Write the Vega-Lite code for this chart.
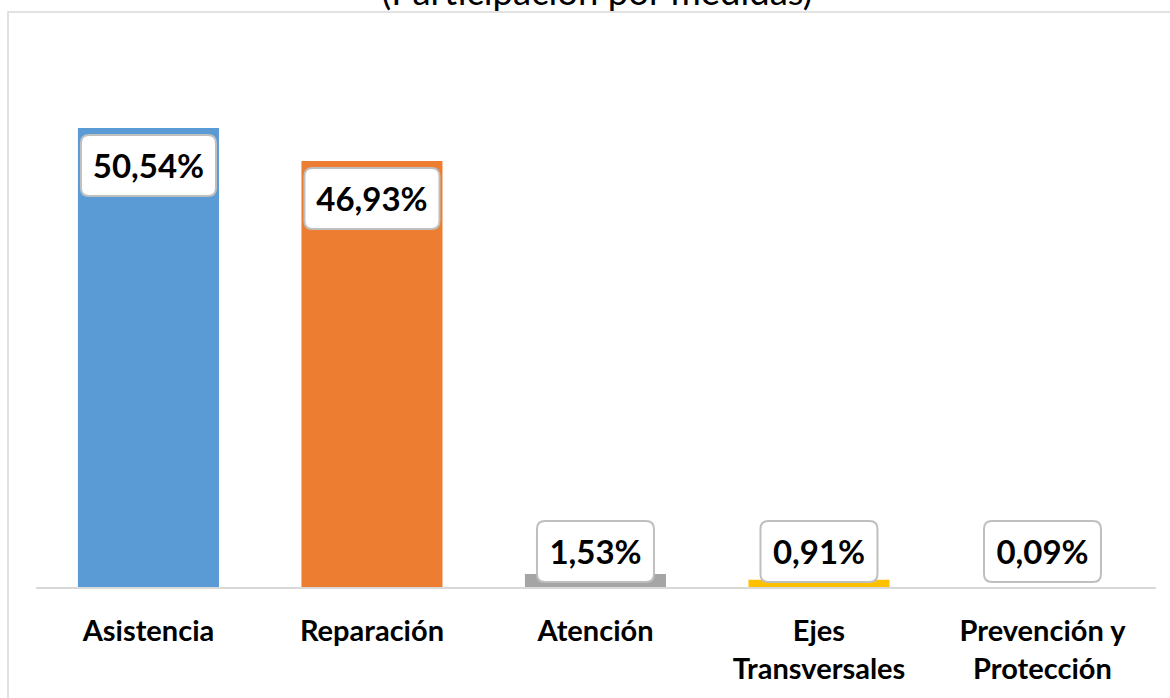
{
  "$schema": "https://vega.github.io/schema/vega-lite/v6.json",
  "width": 1162,
  "height": 686,
  "autosize": {"type": "none"},
  "padding": {"left": 8, "top": 12, "right": 0, "bottom": 0},
  "background": "white",
  "config": {
    "view": {"stroke": "#D9D9D9", "strokeWidth": 1.5, "strokeDash": [1162, 1848, 686, 10]},
    "locale": {"number": {"decimal": ",", "thousands": ".", "grouping": [3], "currency": ["", " €"]}}
  },
  "title": {
    "text": "(Participación por medidas)",
    "font": "Lato",
    "fontSize": 36.5,
    "fontWeight": "normal",
    "color": "#000000",
    "anchor": "middle",
    "offset": 0,
    "dx": 8
  },
  "data": {
    "values": [
      {"medida": "Asistencia", "valor": 0.5054},
      {"medida": "Reparación", "valor": 0.4693},
      {"medida": "Atención", "valor": 0.0153},
      {"medida": "Ejes Transversales", "valor": 0.0091},
      {"medida": "Prevención y Protección", "valor": 0.0009}
    ]
  },
  "encoding": {
    "x": {
      "field": "medida",
      "type": "nominal",
      "sort": null,
      "scale": {"type": "band", "paddingInner": 0.369, "paddingOuter": 0.284, "align": 0.551},
      "axis": {
        "title": null,
        "domain": false,
        "ticks": false,
        "grid": false,
        "offset": -110,
        "labelAngle": 0,
        "labelFont": "Lato",
        "labelFontSize": 29,
        "labelFontWeight": "bold",
        "labelColor": "#000000",
        "labelBaseline": "top",
        "labelPadding": 29,
        "labelLineHeight": 38,
        "labelLimit": 400,
        "labelExpr": "datum.value == 'Ejes Transversales' ? ['Ejes', 'Transversales'] : datum.value == 'Prevención y Protección' ? ['Prevención y', 'Protección'] : datum.label"
      }
    }
  },
  "layer": [
    {
      "mark": {"type": "bar"},
      "encoding": {
        "y": {
          "field": "valor",
          "type": "quantitative",
          "scale": {"domain": [-0.12088, 0.63297], "nice": false, "zero": false},
          "axis": null
        },
        "color": {
          "field": "medida",
          "type": "nominal",
          "sort": null,
          "scale": {
            "domain": ["Asistencia", "Reparación", "Atención", "Ejes Transversales", "Prevención y Protección"],
            "range": ["#5B9BD5", "#ED7D31", "#A5A5A5", "#FFC000", "#4472C4"]
          },
          "legend": null
        }
      }
    },
    {
      "mark": {"type": "rule", "color": "#D9D9D9", "strokeWidth": 1.5, "xOffset": -112.5, "x2Offset": 113.5},
      "encoding": {
        "x": {"datum": "Asistencia"},
        "x2": {"datum": "Prevención y Protección"},
        "y": {"datum": 0}
      }
    },
    {
      "transform": [{"filter": "datum.valor > 0.1"}],
      "mark": {
        "type": "point",
        "filled": true,
        "fill": "white",
        "fillOpacity": 1,
        "stroke": "#BFBFBF",
        "strokeWidth": 2,
        "opacity": 1,
        "size": 18225,
        "yOffset": 37.5,
        "shape": "M -0.881,-0.452 L 0.881,-0.452 Q 1,-0.452 1,-0.333 L 1,0.333 Q 1,0.452 0.881,0.452 L -0.881,0.452 Q -1,0.452 -1,0.333 L -1,-0.333 Q -1,-0.452 -0.881,-0.452 Z"
      },
      "encoding": {
        "y": {"field": "valor", "type": "quantitative"}
      }
    },
    {
      "transform": [{"filter": "datum.valor > 0.1"}],
      "mark": {
        "type": "text",
        "font": "Lato",
        "fontSize": 33,
        "fontWeight": "bold",
        "color": "#000000",
        "baseline": "middle",
        "align": "center",
        "yOffset": 40
      },
      "encoding": {
        "y": {"field": "valor", "type": "quantitative"},
        "text": {"field": "valor", "type": "quantitative", "format": ".2%"}
      }
    },
    {
      "transform": [{"filter": "datum.valor < 0.1"}],
      "mark": {
        "type": "point",
        "filled": true,
        "fill": "white",
        "fillOpacity": 1,
        "stroke": "#BFBFBF",
        "strokeWidth": 2,
        "opacity": 1,
        "size": 13689,
        "yOffset": -36.5,
        "shape": "M -0.863,-0.521 L 0.863,-0.521 Q 1,-0.521 1,-0.384 L 1,0.384 Q 1,0.521 0.863,0.521 L -0.863,0.521 Q -1,0.521 -1,0.384 L -1,-0.384 Q -1,-0.521 -0.863,-0.521 Z"
      },
      "encoding": {
        "y": {"datum": 0}
      }
    },
    {
      "transform": [{"filter": "datum.valor < 0.1"}],
      "mark": {
        "type": "text",
        "font": "Lato",
        "fontSize": 33,
        "fontWeight": "bold",
        "color": "#000000",
        "baseline": "middle",
        "align": "center",
        "yOffset": -34
      },
      "encoding": {
        "y": {"datum": 0},
        "text": {"field": "valor", "type": "quantitative", "format": ".2%"}
      }
    }
  ]
}
